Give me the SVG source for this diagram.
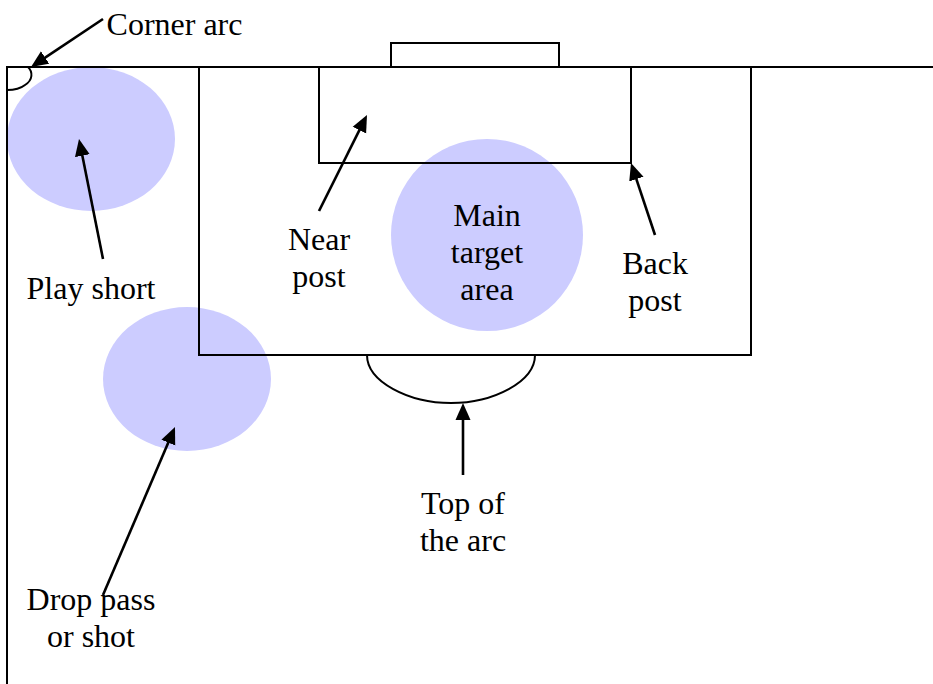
<svg xmlns="http://www.w3.org/2000/svg" width="933" height="684" viewBox="0 0 933 684">
<style>
.zone{fill:#ccf;stroke:none}
.ln{fill:none;stroke:#000;stroke-width:2}
.ar{fill:none;stroke:#000;stroke-width:2.6;marker-end:url(#head)}
text{font-family:"Liberation Serif","Times New Roman",serif;font-size:32px;fill:#000;text-anchor:middle}
</style>
<defs><marker id="head" markerUnits="userSpaceOnUse" markerWidth="18" markerHeight="16" refX="9" refY="8" orient="auto"><path d="M0,0.5L17,8L0,15.5z" fill="#000"/></marker></defs>
<rect width="933" height="684" fill="#fff"/>
<g id="zone-play-short"><ellipse class="zone" cx="91" cy="139" rx="84" ry="72"/></g>
<g id="zone-drop-pass"><ellipse class="zone" cx="187" cy="379" rx="84" ry="72"/></g>
<g id="zone-main-target"><circle class="zone" cx="487" cy="235" r="96"/></g>
<g id="field">
<path class="ln" d="M7,684V67H933"/>
<path class="ln" d="M199,67V355H751V67"/>
<path class="ln" d="M319,67V163H631V67"/>
<path class="ln" d="M391,67V43H559V67"/>
<path class="ln" d="M367,355C367,382 409,403 451,403C493,403 535,382 535,355"/>
<path class="ln" d="M28,67C33,72 33,80 25,85C20,89 13,90 7,90"/>
</g>
<g id="connectors">
<path class="ar" d="M103,19L37.660,62.560"/>
<path class="ar" d="M103,259L80.570,146.840"/>
<path class="ar" d="M319,211L363.420,122.160"/>
<path class="ar" d="M655,235L633.530,170.590"/>
<path class="ar" d="M463,475V411"/>
<path class="ar" d="M103,595L171.850,434.350"/>
</g>
<g id="label-corner-arc"><text x="174.500" y="35">Corner arc</text></g>
<g id="label-play-short"><text x="91" y="299">Play short</text></g>
<g id="label-near-post"><text x="319" y="250">Near</text><text x="319" y="287">post</text></g>
<g id="label-main-target-area"><text x="487" y="226">Main</text><text x="487" y="263">target</text><text x="487" y="300">area</text></g>
<g id="label-back-post"><text x="655" y="274">Back</text><text x="655" y="311">post</text></g>
<g id="label-top-of-arc"><text x="463" y="514">Top of</text><text x="463" y="551">the arc</text></g>
<g id="label-drop-pass"><text x="91" y="610">Drop pass</text><text x="91" y="647">or shot</text></g>
</svg>
